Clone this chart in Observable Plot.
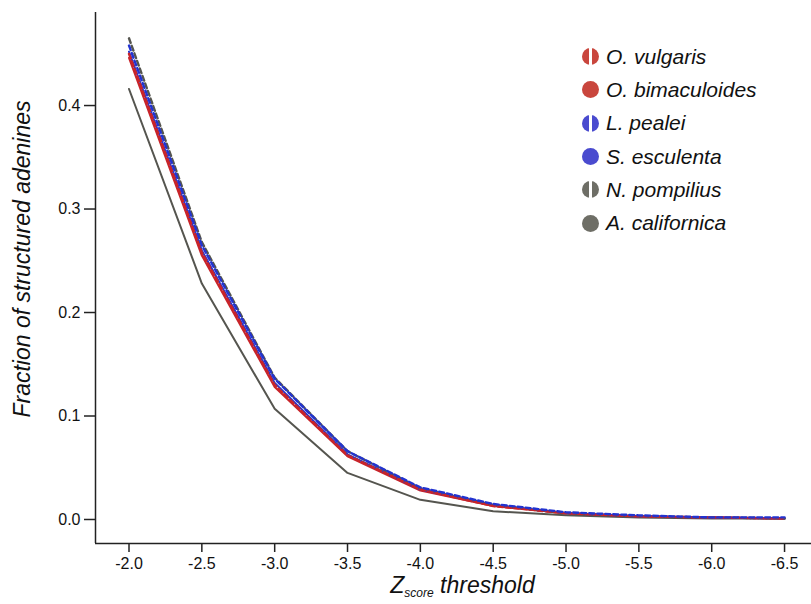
<!DOCTYPE html>
<html><head><meta charset="utf-8">
<script src="https://cdn.jsdelivr.net/npm/d3@7"></script>
<script src="https://cdn.jsdelivr.net/npm/@observablehq/plot@0.6"></script>
<style>
body{margin:0;background:#fff;font-family:"Liberation Sans",Arial,sans-serif;}
#wrap{position:relative;width:811px;height:604px;}
.legend{position:absolute;left:582px;top:40px;}
.row{height:33.3px;display:flex;align-items:center;font-style:italic;font-size:21px;color:#111;}
.dot{width:17px;height:17px;border-radius:50%;margin-right:7px;}
.xt{position:absolute;top:572px;left:0;width:811px;text-align:center;font-style:italic;font-size:23px;color:#111;}
.xt span{margin-left:114px;}
.xt sub{font-size:12px;vertical-align:-4px;}
.yt{position:absolute;left:22px;top:259px;transform:translate(-50%,-50%) rotate(-90deg);white-space:nowrap;font-style:italic;font-size:23px;color:#111;}
</style></head>
<body><div id="wrap"></div>
<script>
const zscores = [-2.0,-2.5,-3.0,-3.5,-4.0,-4.5,-5.0,-5.5,-6.0,-6.5];
const species = ["O. vulgaris","O. bimaculoides","L. pealei","S. esculenta","N. pompilius","A. californica"];
const vulgaris      = [0.450,0.258,0.130,0.062,0.029,0.013,0.006,0.003,0.002,0.001];
const bimaculoides  = [0.446,0.255,0.128,0.061,0.028,0.013,0.006,0.003,0.002,0.001];
const pealei        = [0.458,0.265,0.136,0.066,0.031,0.015,0.007,0.004,0.002,0.002];
const esculenta     = [0.452,0.260,0.132,0.063,0.029,0.014,0.006,0.003,0.002,0.001];
const pompilius     = [0.465,0.268,0.137,0.066,0.030,0.014,0.006,0.003,0.002,0.001];
const californica   = [0.416,0.228,0.107,0.045,0.019,0.008,0.004,0.002,0.001,0.001];
const yTicks = [0.0,0.1,0.2,0.3,0.4];

const seriesValues = [vulgaris,bimaculoides,pealei,esculenta,pompilius,californica];
const lineColors = ["#c8242a","#c8242a","#2233d0","#2233d0","#55554f","#55554f"];
const dotColors  = ["#c9463d","#c9463d","#4a4bcf","#4a4bcf","#6e6e66","#6e6e66"];
const dashed     = [true,false,true,false,true,false];
const drawOrder  = [5,1,3,4,0,2];

const rows = [];
species.forEach((s,i)=>zscores.forEach((z,j)=>rows.push({species:s, z, v:seriesValues[i][j], i})));

const xDomain = [-1.77,-6.685];
const yDomain = [-0.0232,0.4899];

const marks = [
  Plot.ruleY([yDomain[0]],{stroke:"#222",strokeWidth:1.5}),
  Plot.ruleX([xDomain[0]],{stroke:"#222",strokeWidth:1.5}),
  Plot.axisX({ticks:zscores,tickFormat:d=>d.toFixed(1),tickSize:9,tickPadding:5,fontSize:16,stroke:"#222",strokeWidth:1.5,label:null,color:"#111"}),
  Plot.axisY({ticks:yTicks,tickFormat:d=>d.toFixed(1),tickSize:11,tickPadding:4,fontSize:16,stroke:"#222",strokeWidth:1.5,label:null,color:"#111"})
];
drawOrder.forEach(i=>{
  marks.push(Plot.line(rows.filter(r=>r.i===i),{x:"z",y:"v",stroke:lineColors[i],strokeWidth:dashed[i]?2.4:2,strokeDasharray:dashed[i]?"5,3":null}));
});

const chart = Plot.plot({
  width:811,height:604,
  marginLeft:95,marginRight:0,marginTop:12,marginBottom:61,
  x:{domain:xDomain},
  y:{domain:yDomain},
  style:{fontFamily:"'Liberation Sans',Arial,sans-serif",background:"#fff"},
  marks
});
const wrap = document.getElementById("wrap");
wrap.appendChild(chart);

const leg = document.createElement("div");
leg.className="legend";
species.forEach((s,i)=>{
  const r=document.createElement("div");r.className="row";
  const d=document.createElement("div");d.className="dot";
  const c=dotColors[i];
  d.style.background = dashed[i] ? `linear-gradient(to right, ${c} 41%, #fff 41%, #fff 59%, ${c} 59%)` : c;
  const t=document.createElement("span");t.textContent=s;
  r.appendChild(d);r.appendChild(t);leg.appendChild(r);
});
wrap.appendChild(leg);

const xt=document.createElement("div");xt.className="xt";
xt.innerHTML='<span>Z<sub>score</sub> threshold</span>';
wrap.appendChild(xt);
const yt=document.createElement("div");yt.className="yt";
yt.textContent="Fraction of structured adenines";
wrap.appendChild(yt);
</script></body></html>
